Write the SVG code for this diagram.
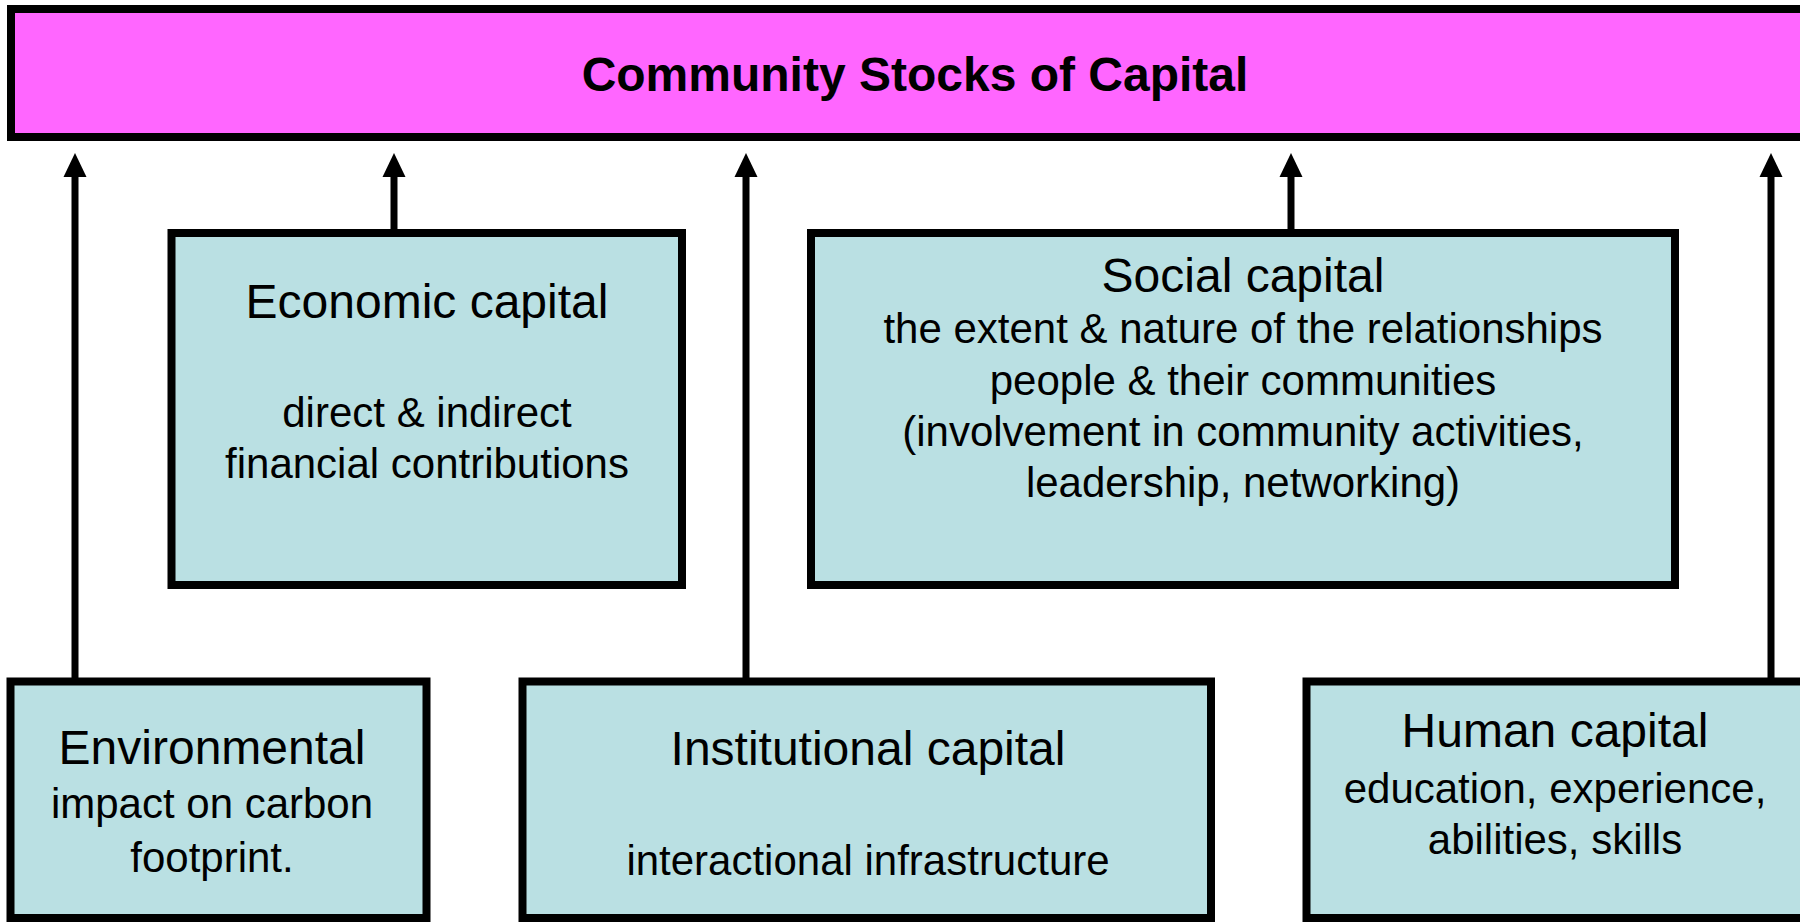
<svg xmlns="http://www.w3.org/2000/svg" width="1800" height="922" viewBox="0 0 1800 922">
<defs>
<style>
.box{fill:#BAE0E3;stroke:#000;stroke-width:8}
.banner{fill:#FF66FF;stroke:#000;stroke-width:8}
.t{font-family:"Liberation Sans",Arial,sans-serif;fill:#000;text-anchor:middle}
.h{font-size:48px}
.b{font-size:42px}
.conn{stroke:#000;stroke-width:7;fill:none}
</style>
<marker id="ah" markerUnits="userSpaceOnUse" markerWidth="24" markerHeight="24" viewBox="0 0 24 24" refX="12" refY="24" orient="auto-start-reverse">
<polygon points="0,24 12,0 24,24" fill="#000"/>
</marker>
</defs>
<rect width="1800" height="922" fill="#fff"/>
<g id="banner">
<rect class="banner" x="11" y="9" width="1808" height="128"/>
<text class="t" x="915" y="91" font-size="48" font-weight="bold">Community Stocks of Capital</text>
</g>
<g id="connectors">
<line class="conn" x1="75" y1="681" x2="75" y2="176"/>
<polygon points="63.5,177 75,153 86.5,177" fill="#000"/>
<line class="conn" x1="394" y1="233" x2="394" y2="176"/>
<polygon points="382.5,177 394,153 405.5,177" fill="#000"/>
<line class="conn" x1="746" y1="681" x2="746" y2="176"/>
<polygon points="734.5,177 746,153 757.5,177" fill="#000"/>
<line class="conn" x1="1291" y1="233" x2="1291" y2="176"/>
<polygon points="1279.5,177 1291,153 1302.5,177" fill="#000"/>
<line class="conn" x1="1771" y1="681" x2="1771" y2="176"/>
<polygon points="1759.5,177 1771,153 1782.5,177" fill="#000"/>
</g>
<g id="economic">
<rect class="box" x="171.5" y="233" width="510.5" height="352"/>
<text class="t h" x="427" y="318">Economic capital</text>
<text class="t b" x="427" y="427">direct &amp; indirect</text>
<text class="t b" x="427" y="478">financial contributions</text>
</g>
<g id="social">
<rect class="box" x="811" y="233" width="864" height="352"/>
<text class="t h" x="1243" y="292">Social capital</text>
<text class="t b" x="1243" y="343">the extent &amp; nature of the relationships</text>
<text class="t b" x="1243" y="395">people &amp; their communities</text>
<text class="t b" x="1243" y="446">(involvement in community activities,</text>
<text class="t b" x="1243" y="497">leadership, networking)</text>
</g>
<g id="environmental">
<rect class="box" x="10.5" y="681.5" width="416" height="236.5"/>
<text class="t h" x="212" y="764">Environmental</text>
<text class="t b" x="212" y="818">impact on carbon</text>
<text class="t b" x="212" y="872">footprint.</text>
</g>
<g id="institutional">
<rect class="box" x="522.5" y="681.5" width="688.5" height="236.5"/>
<text class="t h" x="868" y="765">Institutional capital</text>
<text class="t b" x="868" y="875">interactional infrastructure</text>
</g>
<g id="human">
<rect class="box" x="1306.5" y="681.5" width="520" height="236.5"/>
<text class="t h" x="1555" y="747">Human capital</text>
<text class="t b" x="1555" y="803">education, experience,</text>
<text class="t b" x="1555" y="854">abilities, skills</text>
</g>
</svg>
